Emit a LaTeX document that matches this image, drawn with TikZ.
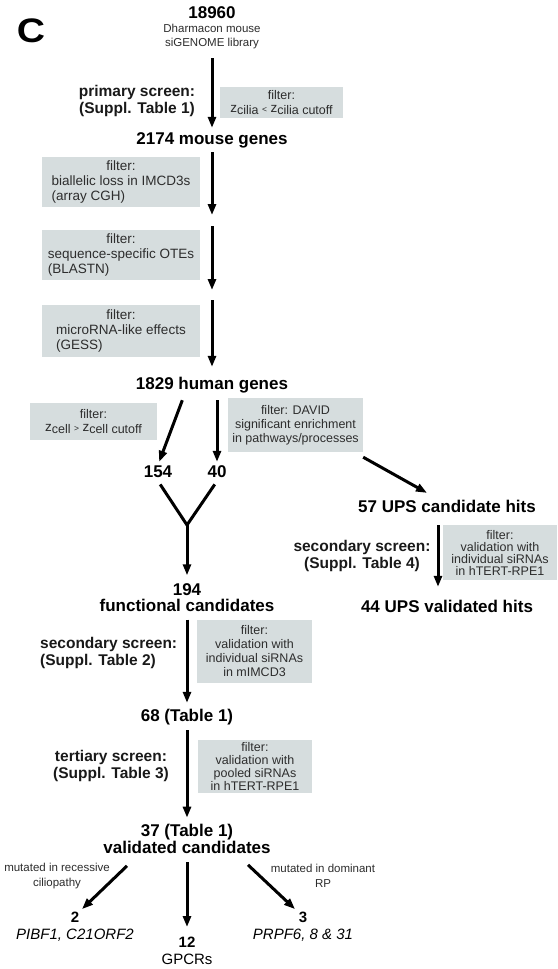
\documentclass[tikz,border=0pt]{standalone}
\usepackage{fontspec}
\setmainfont{Liberation Sans}
\usetikzlibrary{arrows.meta}
\definecolor{boxcol}{RGB}{214,221,222}
\definecolor{ftxt}{RGB}{45,45,45}
\newcommand\myz[1]{\raisebox{2pt}{\fontsize{13.5}{13.5}\selectfont z}#1}
\newcommand\mysm[1]{\raisebox{2pt}{\fontsize{8.5}{8.5}\selectfont #1}}
\newcommand\lefttab[2]{\begin{tabular}{@{}l@{}}\multicolumn{1}{@{}c@{}}{filter:}\\#1\\#2\end{tabular}}
\begin{document}
\begin{tikzpicture}[x=1pt,y=-1pt,
  arr/.style={line width=3pt,-{Triangle[length=11pt,width=8pt]}},
  ln/.style={line width=3pt,line join=miter},
  big/.style={font=\fontsize{17}{15.8}\selectfont\bfseries,inner sep=0pt,align=center},
  one/.style={text height=12.2pt,text depth=3.6pt},
  scr/.style={font=\fontsize{15.5}{17}\selectfont\bfseries,inner sep=0pt,align=center,text=black!90},
  fbox/.style={fill=boxcol,inner sep=0pt,text=ftxt,align=center,font=\fontsize{12.5}{14}\selectfont},
  lbox/.style={fbox,minimum width=158pt,font=\fontsize{13.5}{15}\selectfont},
  note/.style={font=\fontsize{11.5}{14}\selectfont,inner sep=0pt,align=center,text=ftxt},
  res/.style={font=\fontsize{15}{17}\selectfont,inner sep=0pt,align=center}]
\fill[white] (0,0) rectangle (557,969);
\useasboundingbox (0,0) rectangle (557,969);

% panel letter
\node[font=\fontsize{34}{34}\selectfont\bfseries,xscale=1.15,inner sep=0pt] (C) at (31,31) {C};

% main column
\node[big,one] (L18960) at (212,14) {18960};
\node[note] (lib) at (212,37) {Dharmacon mouse\\siGENOME library};
\node[scr] (scr1) at (137,101) {primary screen:\\(Suppl. Table 1)};
\node[fbox,minimum width=123pt,minimum height=31pt] (B1) at (281.5,102.5)
  {filter:\\[0.5pt]\myz{cilia} \mysm{<} \myz{cilia} cutoff};
\node[big,one] (L2174) at (212,140) {2174 mouse genes};

\node[lbox,minimum height=50pt] (B2) at (121,182)
  {\lefttab{biallelic loss in IMCD3s}{(array CGH)}};
\node[lbox,minimum height=50pt] (B3) at (121,255)
  {\lefttab{sequence-specific OTEs}{(BLASTN)}};
\node[lbox,minimum height=52pt] (B4) at (121,331)
  {\lefttab{microRNA-like effects}{(GESS)}};

\coordinate (m1) at (212,222);
\coordinate (m2) at (212,296);

\node[big,one] (L1829) at (212,385) {1829 human genes};

\node[fbox,minimum width=127pt,minimum height=37pt] (B5) at (93.5,421.5)
  {filter:\\[0.5pt]\myz{cell} \mysm{>} \myz{cell} cutoff};
\node[fbox,minimum width=135pt,minimum height=54pt] (B6) at (295.5,425)
  {filter: DAVID\\significant enrichment\\in pathways/processes};

\node[big,one] (L154) at (158,473) {154};
\node[big,one] (L40) at (217,473) {40};
\coordinate (J) at (187,525);

\node[big] (L194) at (187,598) {194\\functional candidates};

% right branch
\node[big,one] (L57) at (447,508) {57 UPS candidate hits};
\node[scr] (scr4) at (362,556) {secondary screen:\\(Suppl. Table 4)};
\node[fbox,minimum width=114pt,minimum height=55pt,font=\fontsize{12.5}{12}\selectfont] (B7) at (500,552.5)
  {filter:\\validation with\\individual siRNAs\\in hTERT-RPE1};
\node[big,one] (L44) at (447,608) {44 UPS validated hits};

% lower main column
\node[scr,align=left,anchor=west] (scr2) at (40,653) {secondary screen:\\(Suppl. Table 2)};
\node[fbox,minimum width=115pt,minimum height=63pt,font=\fontsize{12.5}{14}\selectfont] (B8) at (254.5,651.5)
  {filter:\\validation with\\individual siRNAs\\in mIMCD3};
\node[big,one] (L68) at (187,717) {68 (Table 1)};
\node[scr] (scr3) at (111,766) {tertiary screen:\\(Suppl. Table 3)};
\node[fbox,minimum width=114pt,minimum height=53pt,font=\fontsize{12.5}{13}\selectfont] (B9) at (255,766.5)
  {filter:\\validation with\\pooled siRNAs\\in hTERT-RPE1};
\node[big] (L37) at (187,839) {37 (Table 1)\\validated candidates};

\node[note,font=\fontsize{11.5}{15}\selectfont] (Lmr) at (57,876) {mutated in recessive\\ciliopathy};
\node[note,font=\fontsize{11.5}{15}\selectfont] (Lmd) at (323,876) {mutated in dominant\\RP};

\node[res] (L2) at (75,927) {\textbf{2}\\\textit{PIBF1, C21ORF2}};
\node[res] (L12) at (187,951) {\textbf{12}\\GPCRs};
\node[res] (L3) at (303,927) {\textbf{3}\\\textit{PRPF6, 8 \& 31}};

% connectors
\draw[arr,shorten <=8.6pt,shorten >=4.1pt] (lib.south) -- (L2174.north);
\draw[arr,shorten <=4.1pt,shorten >=7pt] (L2174.south) -- (m1);
\draw[arr,shorten <=4pt,shorten >=6pt] (m1) -- (m2);
\draw[arr,shorten <=4pt,shorten >=10.1pt] (m2) -- (L1829.north);

\draw[arr,shorten <=7.6pt,shorten >=3.3pt] ([xshift=-27pt]L1829.south) -- (L154.north);
\draw[arr,shorten <=7.1pt,shorten >=3.1pt] (L1829.south -| L40.north) -- (L40.north);
\draw[ln,shorten <=4pt,shorten >=4pt] (L154.south) -- (J) -- (L40.south);
\draw[arr,shorten >=8.6pt] (J) -- (L194.north);

\draw[arr] ([yshift=-5pt]B6.south east) -- ([xshift=-20pt,yshift=7pt]L57.north);
\draw[arr,shorten <=9.1pt,shorten >=13.1pt] ([xshift=-9pt]L57.south) -- ([xshift=-9pt]L44.north);

\draw[arr,shorten <=7.6pt,shorten >=6.1pt] (L194.south) -- (L68.north);
\draw[arr,shorten <=5.1pt,shorten >=6.5pt] (L68.south) -- (L37.north);

\draw[arr] ([xshift=-60pt,yshift=-12pt]L37.south) -- ([xshift=7pt,yshift=3pt]L2.north);
\draw[arr,shorten <=8.5pt,shorten >=10pt] (L37.south) -- (L12.north);
\draw[arr] ([xshift=61pt,yshift=-11pt]L37.south) -- ([xshift=-8pt,yshift=3pt]L3.north);
\end{tikzpicture}
\end{document}
